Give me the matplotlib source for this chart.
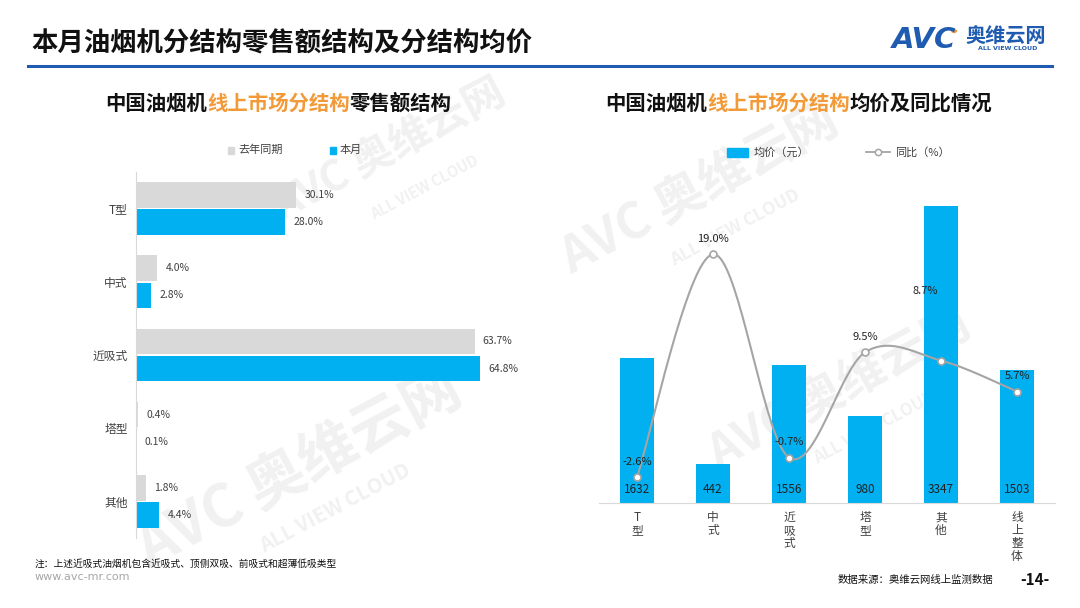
import numpy as np
import matplotlib
matplotlib.use("Agg")
import matplotlib.pyplot as plt
from matplotlib.patches import Rectangle
from matplotlib.lines import Line2D

plt.rcParams['font.family'] = ['Noto Sans CJK SC', 'DejaVu Sans']

# ---------------- data ----------------
share_cats = ["T型", "中式", "近吸式", "塔型", "其他"]
share_last_year = [30.1, 4.0, 63.7, 0.4, 1.8]
share_this_month = [28.0, 2.8, 64.8, 0.1, 4.4]

price_cats = ["T\n型", "中\n式", "近\n吸\n式", "塔\n型", "其\n他", "线\n上\n整\n体"]
avg_price = [1632, 442, 1556, 980, 3347, 1503]
yoy_pct = [-2.6, 19.0, -0.7, 9.5, 8.7, 5.7]

BLUE = "#00B0F0"
GRAY = "#D9D9D9"
ORANGE = "#F29A38"
DARK = "#404040"
LOGO = "#1F5BB0"

W, H = 1080, 608
fig = plt.figure(figsize=(W / 100, H / 100), dpi=100)
fig.patch.set_facecolor("white")


def fx(x):
    return x / W


def fy(y):
    return 1 - y / H


# ---------------- watermarks (behind everything) ----------------
for (x, y, s) in [(390, 150, 30), (300, 470, 42), (700, 190, 36), (840, 390, 34)]:
    fig.text(fx(x), fy(y), "AVC 奥维云网", fontsize=s, fontweight="bold",
             color="#F1F1F1", rotation=28, ha="center", va="center", zorder=-5,
             style="italic")
    fig.text(fx(x + 35), fy(y + 38), "ALL VIEW CLOUD", fontsize=s * 0.35,
             fontweight="bold", color="#F1F1F1", rotation=28, ha="center",
             va="center", zorder=-5)

# ---------------- header ----------------
fig.text(fx(31), fy(44), "本月油烟机分结构零售额结构及分结构均价", fontsize=19,
         fontweight="bold", color="#111111", ha="left", va="center")
fig.add_artist(Line2D([fx(28), fx(1052)], [fy(66), fy(66)], color=LOGO, lw=2.2))

fig.text(fx(892), fy(40), "AVC", fontsize=21, fontweight="heavy", style="italic",
         color=LOGO, ha="left", va="center", family="DejaVu Sans")
fig.add_artist(plt.Circle((fx(954), fy(31)), 0.0022, color="#F29A38",
                          transform=fig.transFigure))
fig.text(fx(965), fy(36), "奥维云网", fontsize=14.5, fontweight="bold",
         color=LOGO, ha="left", va="center")
fig.text(fx(978), fy(49), "ALL VIEW CLOUD", fontsize=4.5, fontweight="bold",
         color=LOGO, ha="left", va="center", family="DejaVu Sans")

# ---------------- subtitles ----------------
CH = 20.4  # px per CJK char
sub_fs = CH * 72 / 100


def colored_title(x0, y, parts):
    x = x0
    for txt, col in parts:
        fig.text(fx(x), fy(y), txt, fontsize=sub_fs, fontweight="bold",
                 color=col, ha="left", va="center")
        x += CH * len(txt)


colored_title(105, 103, [("中国油烟机", "#111111"), ("线上市场分结构", ORANGE),
                         ("零售额结构", "#111111")])
colored_title(605, 103, [("中国油烟机", "#111111"), ("线上市场分结构", ORANGE),
                         ("均价及同比情况", "#111111")])

# ---------------- left chart ----------------
ax1 = fig.add_axes([fx(136), fy(538), 372 / W, 366 / H])
y = np.arange(len(share_cats))
bh = 0.35
ax1.barh(y - 0.185, share_last_year, height=bh, color=GRAY, zorder=2)
ax1.barh(y + 0.185, share_this_month, height=bh, color=BLUE, zorder=2)
ax1.set_xlim(0, 70)
ax1.set_ylim(4.5, -0.5)
for i, (a, b) in enumerate(zip(share_last_year, share_this_month)):
    ax1.annotate(f"{a:.1f}%", (a, i - 0.185), xytext=(6, 0),
                 textcoords="offset points", va="center", ha="left",
                 fontsize=7.5, color=DARK)
    ax1.annotate(f"{b:.1f}%", (b, i + 0.185), xytext=(6, 0),
                 textcoords="offset points", va="center", ha="left",
                 fontsize=7.5, color=DARK)
ax1.set_yticks(y)
ax1.set_yticklabels(share_cats, fontsize=8.5, color=DARK)
ax1.tick_params(axis="y", length=0, pad=6)
ax1.set_xticks([])
for s in ["top", "right", "bottom"]:
    ax1.spines[s].set_visible(False)
ax1.spines["left"].set_color(GRAY)
ax1.patch.set_alpha(0)

# left legend
fig.add_artist(Rectangle((fx(228), fy(154)), 6 / W, 7 / H, color=GRAY,
                         transform=fig.transFigure))
fig.text(fx(238), fy(150), "去年同期", fontsize=8, color=DARK, va="center")
fig.add_artist(Rectangle((fx(330), fy(154)), 6 / W, 7 / H, color=BLUE,
                         transform=fig.transFigure))
fig.text(fx(340), fy(150), "本月", fontsize=8, color=DARK, va="center")

# ---------------- right chart ----------------
ax2 = fig.add_axes([fx(599), fy(503), 456 / W, 363 / H])
x = np.arange(len(price_cats))
ax2.bar(x, avg_price, width=0.46, color=BLUE, zorder=2)
ax2.set_xlim(-0.5, len(price_cats) - 0.5)
ax2.set_ylim(0, 4091)
for i, v in enumerate(avg_price):
    ax2.annotate(f"{v}", (i, 0), xytext=(0, 10), textcoords="offset points",
                 ha="center", va="center", fontsize=8.5, color="#222222", zorder=5)
ax2.set_xticks(x)
ax2.set_xticklabels(price_cats, fontsize=8.5, color=DARK, linespacing=1.0,
                    va="top")
ax2.tick_params(axis="x", length=0, pad=6)
ax2.set_yticks([])
for s in ["top", "right", "left"]:
    ax2.spines[s].set_visible(False)
ax2.spines["bottom"].set_color(GRAY)
ax2.patch.set_alpha(0)

ax3 = ax2.twinx()
ax3.set_ylim(-5.1, 30.07)
ax3.set_yticks([])
for s in ax3.spines.values():
    s.set_visible(False)

# smoothed line (Catmull-Rom style bezier through the data points)
px = x.astype(float)
py = np.array(yoy_pct, dtype=float)
n = len(px)
cx, cy = [], []
t = np.linspace(0, 1, 40)
for i in range(n - 1):
    p0 = np.array([px[max(i - 1, 0)], py[max(i - 1, 0)]])
    p1 = np.array([px[i], py[i]])
    p2 = np.array([px[i + 1], py[i + 1]])
    p3 = np.array([px[min(i + 2, n - 1)], py[min(i + 2, n - 1)]])
    c1 = p1 + (p2 - p0) / 6
    c2 = p2 - (p3 - p1) / 6
    seg = ((1 - t)[:, None] ** 3 * p1 + 3 * (1 - t)[:, None] ** 2 * t[:, None] * c1
           + 3 * (1 - t)[:, None] * t[:, None] ** 2 * c2 + t[:, None] ** 3 * p2)
    cx.extend(seg[:, 0])
    cy.extend(seg[:, 1])
ax3.plot(cx, cy, color="#A5A5A5", lw=1.5, zorder=3)
ax3.plot(px, py, ls="none", marker="o", ms=5, mfc="white", mec="#A5A5A5",
         mew=1.2, zorder=4)
offsets = [(0, 11), (0, 11), (0, 11), (0, 11), (-11, 50), (0, 11)]
for i, v in enumerate(yoy_pct):
    ax3.annotate(f"{v:.1f}%", (px[i], v), xytext=offsets[i],
                 textcoords="offset points", ha="center", va="center",
                 fontsize=8, color="#222222", zorder=5)

# right legend
fig.add_artist(Rectangle((fx(727), fy(157)), 21 / W, 9 / H, color=BLUE,
                         transform=fig.transFigure))
fig.text(fx(754), fy(152), "均价（元）", fontsize=8, color=DARK, va="center")
fig.add_artist(Line2D([fx(866), fx(890)], [fy(152), fy(152)], color="#A5A5A5",
                      lw=1.3))
fig.add_artist(Line2D([fx(878)], [fy(152)], marker="o", ms=4.5, mfc="white",
                      mec="#A5A5A5", mew=1.1))
fig.text(fx(895), fy(152), "同比（%）", fontsize=8, color=DARK, va="center")

# ---------------- footer ----------------
fig.text(fx(35), fy(564), "注：上述近吸式油烟机包含近吸式、顶侧双吸、前吸式和超薄低吸类型",
         fontsize=7, color="#111111", va="center")
fig.text(fx(35), fy(577), "www.avc-mr.com", fontsize=8, color="#A6A6A6",
         va="center", family="DejaVu Sans")
fig.text(fx(838), fy(580), "数据来源：奥维云网线上监测数据", fontsize=7.5,
         color="#111111", va="center")
fig.text(fx(1020), fy(580), "-14-", fontsize=11, color="#111111", va="center",
         fontweight="bold")

fig.savefig("out.png", dpi=100, facecolor="white")
